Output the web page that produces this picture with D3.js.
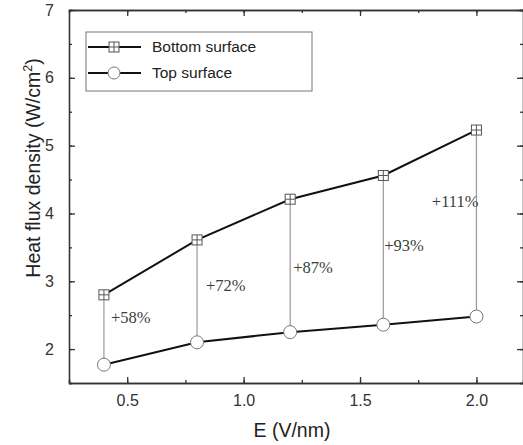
<!DOCTYPE html>
<html>
<head>
<meta charset="utf-8">
<script src="https://cdn.jsdelivr.net/npm/d3@7"></script>
<style>
  html, body { margin: 0; padding: 0; background: #fff; }
  svg { display: block; }
</style>
</head>
<body>
<svg id="chart" width="523" height="445"></svg>
<script>
// Electric field strength (V/nm)
const fieldE = [0.4, 0.8, 1.2, 1.6, 2.0];
// Heat flux density (W/cm²) on each surface
const bottomSurface = [2.80, 3.61, 4.21, 4.56, 5.23];
const topSurface = [1.77, 2.10, 2.25, 2.36, 2.48];
// Enhancement labels between the two surfaces
const gainLabels = ["+58%", "+72%", "+87%", "+93%", "+111%"];
const xTicks = [0.5, 1.0, 1.5, 2.0];
const yTicks = [2, 3, 4, 5, 6, 7];

const svg = d3.select("#chart");
const M = { left: 69, top: 10, right: 523, bottom: 383 };

const x = d3.scaleLinear().domain([0.25, 2.2]).range([M.left, M.right]);
const y = d3.scaleLinear().domain([1.5, 7]).range([M.bottom, M.top]);

const axisColor = "#333";
const sans = "Liberation Sans, Arial, sans-serif";
const fmtX = d3.format(".1f");

// Frame with inward ticks on all four sides
function styleAxis(g) {
  g.select(".domain").attr("stroke", axisColor).attr("stroke-width", 1.3);
  g.selectAll(".tick line").attr("stroke", axisColor).attr("stroke-width", 1.3);
  g.selectAll(".tick text").attr("fill", "#333")
    .style("font-family", sans).style("font-size", "16px");
}

const xMinor = d3.range(0.25, 2.21, 0.25);
const yMinor = d3.range(1.5, 7.01, 0.5);

// bottom
svg.append("g").attr("transform", `translate(0,${M.bottom})`)
  .call(d3.axisBottom(x).tickValues(xMinor).tickSize(-3).tickFormat(""))
  .call(styleAxis);
svg.append("g").attr("transform", `translate(0,${M.bottom})`)
  .call(d3.axisBottom(x).tickValues(xTicks).tickSizeInner(-6).tickSizeOuter(0).tickPadding(12).tickFormat(fmtX))
  .call(styleAxis);
// top
svg.append("g").attr("transform", `translate(0,${M.top})`)
  .call(d3.axisTop(x).tickValues(xMinor).tickSize(-3).tickFormat(""))
  .call(styleAxis);
svg.append("g").attr("transform", `translate(0,${M.top})`)
  .call(d3.axisTop(x).tickValues(xTicks).tickSizeInner(-6).tickSizeOuter(0).tickFormat(""))
  .call(styleAxis);
// left
svg.append("g").attr("transform", `translate(${M.left},0)`)
  .call(d3.axisLeft(y).tickValues(yMinor).tickSize(-3).tickFormat(""))
  .call(styleAxis);
svg.append("g").attr("transform", `translate(${M.left},0)`)
  .call(d3.axisLeft(y).tickValues(yTicks).tickSizeInner(-6).tickSizeOuter(0).tickPadding(15).tickFormat(d3.format("d")))
  .call(styleAxis);
// right
svg.append("g").attr("transform", `translate(${M.right},0)`)
  .call(d3.axisRight(y).tickValues(yMinor).tickSize(-3).tickFormat(""))
  .call(styleAxis);
svg.append("g").attr("transform", `translate(${M.right},0)`)
  .call(d3.axisRight(y).tickValues(yTicks).tickSizeInner(-6).tickSizeOuter(0).tickFormat(""))
  .call(styleAxis);

// Axis titles
svg.append("text")
  .attr("x", 292).attr("y", 437)
  .attr("text-anchor", "middle").attr("fill", "#222")
  .style("font-family", sans).style("font-size", "19.5px")
  .text("E (V/nm)");

const yTitle = svg.append("text")
  .attr("transform", "translate(40,168) rotate(-90)")
  .attr("text-anchor", "middle").attr("fill", "#222")
  .style("font-family", sans).style("font-size", "19.5px");
yTitle.append("tspan").text("Heat flux density (W/cm");
yTitle.append("tspan").attr("dy", -8).style("font-size", "12.5px").text("2");
yTitle.append("tspan").attr("dy", 8).text(")");

// Vertical connectors between the two surfaces
svg.append("g").selectAll("line")
  .data(fieldE)
  .join("line")
  .attr("x1", d => x(d)).attr("x2", d => x(d))
  .attr("y1", (d, i) => y(bottomSurface[i]))
  .attr("y2", (d, i) => y(topSurface[i]))
  .attr("stroke", "#999").attr("stroke-width", 1.2);

// Percentage annotations
const labelLayout = [
  { dx: 7, v: 2.47, anchor: "start" },
  { dx: 9, v: 2.94, anchor: "start" },
  { dx: 3, v: 3.21, anchor: "start" },
  { dx: 1, v: 3.53, anchor: "start" },
  { dx: 2, v: 4.18, anchor: "end" }
];
svg.append("g").selectAll("text")
  .data(gainLabels)
  .join("text")
  .attr("x", (d, i) => x(fieldE[i]) + labelLayout[i].dx)
  .attr("y", (d, i) => y(labelLayout[i].v))
  .attr("dy", "0.35em")
  .attr("text-anchor", (d, i) => labelLayout[i].anchor)
  .attr("fill", "#3a3f3a")
  .style("font-family", "Liberation Serif, Times New Roman, serif").style("font-size", "16.5px")
  .text(d => d);

// Series lines
const line = d3.line().x((d, i) => x(fieldE[i])).y(d => y(d));
svg.append("path").datum(bottomSurface).attr("d", line)
  .attr("fill", "none").attr("stroke", "#111").attr("stroke-width", 2);
svg.append("path").datum(topSurface).attr("d", line)
  .attr("fill", "none").attr("stroke", "#111").attr("stroke-width", 2);

// Markers
function squareMarker(g, cx, cy) {
  const s = 5;
  g.append("rect").attr("x", cx - s).attr("y", cy - s).attr("width", 2 * s).attr("height", 2 * s)
    .attr("fill", "#fff").attr("stroke", "#555").attr("stroke-width", 1);
  g.append("line").attr("x1", cx).attr("x2", cx).attr("y1", cy - s).attr("y2", cy + s)
    .attr("stroke", "#555").attr("stroke-width", 1);
  g.append("line").attr("x1", cx - s).attr("x2", cx + s).attr("y1", cy).attr("y2", cy)
    .attr("stroke", "#555").attr("stroke-width", 1);
}
const sq = svg.append("g");
bottomSurface.forEach((v, i) => squareMarker(sq, x(fieldE[i]), y(v)));

svg.append("g").selectAll("circle")
  .data(topSurface)
  .join("circle")
  .attr("cx", (d, i) => x(fieldE[i])).attr("cy", d => y(d)).attr("r", 6.5)
  .attr("fill", "#fff").attr("stroke", "#777").attr("stroke-width", 1);

// Legend
const lg = svg.append("g");
lg.append("rect").attr("x", 86).attr("y", 32).attr("width", 226).attr("height", 59)
  .attr("fill", "#fff").attr("stroke", "#777").attr("stroke-width", 1);
const legendRows = [
  { name: "Bottom surface", y: 47, marker: "square" },
  { name: "Top surface", y: 73, marker: "circle" }
];
legendRows.forEach(r => {
  lg.append("line").attr("x1", 88).attr("x2", 141).attr("y1", r.y).attr("y2", r.y)
    .attr("stroke", "#111").attr("stroke-width", 2);
  if (r.marker === "square") squareMarker(lg, 114, r.y);
  else lg.append("circle").attr("cx", 114).attr("cy", r.y).attr("r", 6)
    .attr("fill", "#fff").attr("stroke", "#777").attr("stroke-width", 1);
  lg.append("text").attr("x", 152).attr("y", r.y).attr("dy", "0.35em")
    .attr("fill", "#222")
    .style("font-family", sans).style("font-size", "15.5px")
    .text(r.name);
});
</script>
</body>
</html>
